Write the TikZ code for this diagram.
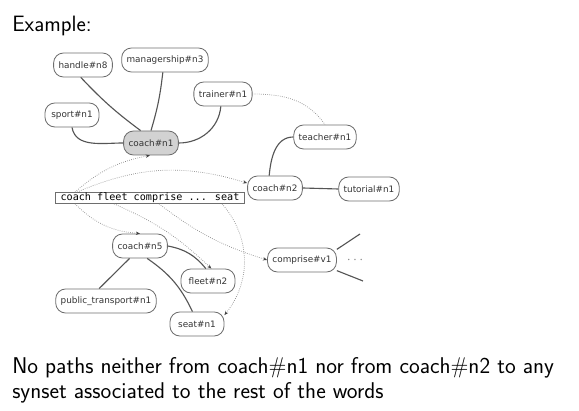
\documentclass[tikz,border=0pt]{standalone}
\usepackage{fontspec}
\usepackage{xcolor}
\usepackage{tikz}
\usetikzlibrary{arrows.meta}

\newfontfamily\synsetfont{DejaVu Sans}
\newfontfamily\wordsfont{DejaVu Sans Mono}

\definecolor{nodeline}{HTML}{6E6E6E}
\definecolor{nodetext}{HTML}{333333}
\definecolor{linkgray}{HTML}{555555}
\definecolor{hintgray}{HTML}{8A8A8A}
\definecolor{coachfill}{HTML}{D2D2D2}

\begin{document}
\begin{tikzpicture}[x = 0.025cm, y = 0.025cm,
    synset/.style = {draw = nodeline, line width = 0.6pt, rounded corners = 7pt,
        minimum width = 1.35cm, minimum height = 0.6cm, inner xsep = 3.5pt,
        text = nodetext, font = \synsetfont\fontsize{6.3}{7}\selectfont},
    words/.style = {draw = nodeline, line width = 0.6pt, inner sep = 0pt,
        minimum width = 4.725cm, minimum height = 0.275cm,
        font = \wordsfont\fontsize{7.2}{8}\selectfont},
    link/.style = {draw = linkgray, line width = 0.8pt},
    faint/.style = {draw = hintgray, densely dotted, line width = 0.5pt},
    hint/.style = {faint, -{Stealth[length = 3pt, width = 2.4pt, color = black!75]}}]
    \useasboundingbox (0, 0) rectangle (579, -411);

    \node[anchor = base west, inner sep = 0pt, font = \sffamily\fontsize{15.8}{18}\selectfont] (title) at (12, -32) {Example:};

    {
      \node[synset] (handle) at (83, -65) {handle\#n8};
      \node[synset] (managership) at (165, -60) {managership\#n3};
      \node[synset] (trainer) at (223, -94) {trainer\#n1};
      \node[synset] (sport) at (72, -115) {sport\#n1};
      \node[synset, fill = coachfill] (coachA) at (151, -143) {coach\#n1};
      \node[synset] (teacher) at (325, -137) {teacher\#n1};
      \node[synset] (coachB) at (275, -188) {coach\#n2};
      \node[synset] (tutorial) at (369, -189) {tutorial\#n1};
    }
    \node[words] (sentence) at (150, -198) {coach fleet comprise ... seat};
    {
      \node[synset] (coachC) at (140, -246) {coach\#n5};
      \node[synset] (fleet) at (208, -281) {fleet\#n2};
      \node[synset] (comprise) at (302, -260) {comprise\#v1};
      \node[synset] (transport) at (106, -301) {public\_transport\#n1};
      \node[synset] (seat) at (197, -324) {seat\#n1};
      \node[text = hintgray] (more) at (355, -260) {$\cdots$};
      \coordinate (upper) at (360, -234);
      \coordinate (lower) at (363, -281);
    }

    \draw[link] (handle.-100) to[bend right = 5] (coachA.130);
    \draw[link] (managership.-100) to[bend left = 5] (coachA.north);
    \draw[link] (sport.south) to[out = -80, in = 180] (coachA.west);
    \draw[link] (trainer.-100) to[out = -95, in = 0] (coachA.east);
    \draw[faint] (trainer.east) to[out = 0, in = 125] (teacher.north);
    \draw[link] (teacher.west) to[out = 180, in = 85] (coachB.115);
    \draw[link] (coachB.east) -- (tutorial.west);

    \draw[hint] ([xshift = 0.5cm]sentence.north west) to[bend left = 15] (coachA.-95);
    \draw[hint] ([xshift = 0.55cm]sentence.north west) to[bend left = 20] (coachB.170);
    \draw[hint] ([xshift = 0.5cm]sentence.south west) to[bend right = 20] (coachC.north);
    \draw[hint] ([xshift = 1.475cm]sentence.south west) to[bend left = 10] (fleet.75);
    \draw[hint] ([xshift = 2.6cm]sentence.south west) to[bend right = 10] (comprise.west);
    \draw[hint] ([xshift = 4.175cm]sentence.south west) to[bend left = 40] (seat.18);

    \draw[link] (coachC.east) to[bend left = 20] (fleet.100);
    \draw[link] (coachC.-130) -- (transport.119);
    \draw[link] (coachC.-60) to[bend left = 15] (seat.110);
    \draw[link] (comprise.17) -- (upper);
    \draw[link] (comprise.-17) -- (lower);

    \node[anchor = north west, inner sep = 0pt, align = left,
        font = \sffamily\fontsize{16.2}{18}\selectfont] (note) at (12, -357)
        {No paths neither from coach\#n1 nor from coach\#n2 to any\\
         synset associated to the rest of the words};
\end{tikzpicture}
\end{document}
